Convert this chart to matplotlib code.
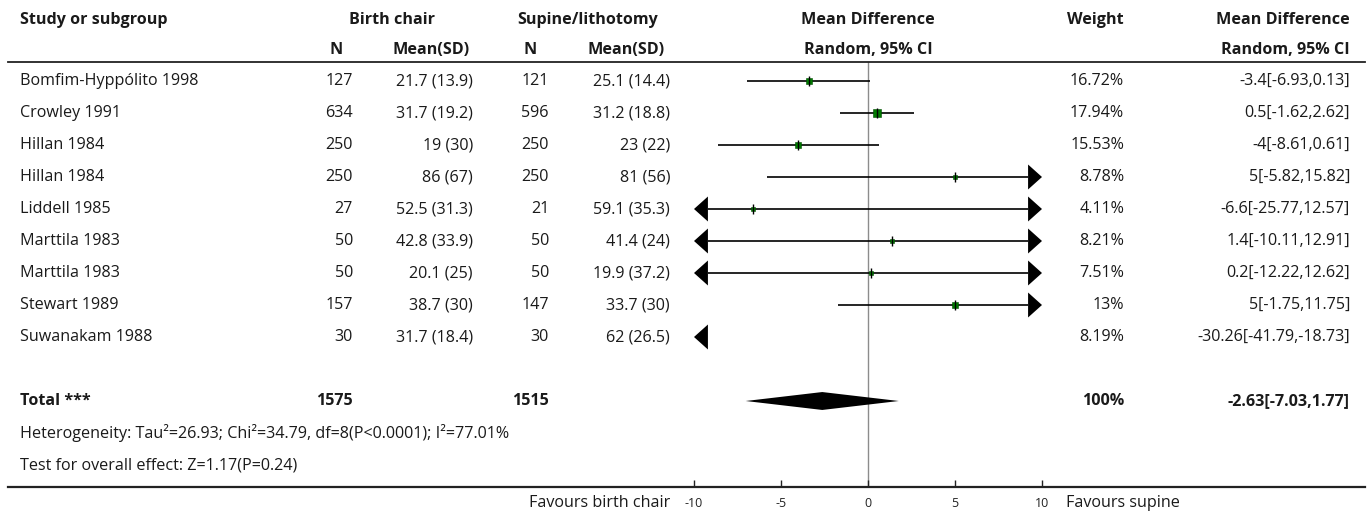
import matplotlib
matplotlib.use("Agg")
import matplotlib.pyplot as plt
from matplotlib.patches import Polygon
from matplotlib.lines import Line2D
from matplotlib.transforms import blended_transform_factory

plt.rcParams['font.family'] = ['Open Sans', 'DejaVu Sans']

# ---- data ----
studies = ["Bomfim-Hyppólito 1998", "Crowley 1991", "Hillan 1984", "Hillan 1984",
           "Liddell 1985", "Marttila 1983", "Marttila 1983", "Stewart 1989",
           "Suwanakam 1988"]
n_chair = [127, 634, 250, 250, 27, 50, 50, 157, 30]
msd_chair = ["21.7 (13.9)", "31.7 (19.2)", "19 (30)", "86 (67)", "52.5 (31.3)",
             "42.8 (33.9)", "20.1 (25)", "38.7 (30)", "31.7 (18.4)"]
n_sup = [121, 596, 250, 250, 21, 50, 50, 147, 30]
msd_sup = ["25.1 (14.4)", "31.2 (18.8)", "23 (22)", "81 (56)", "59.1 (35.3)",
           "41.4 (24)", "19.9 (37.2)", "33.7 (30)", "62 (26.5)"]
md = [-3.4, 0.5, -4, 5, -6.6, 1.4, 0.2, 5, -30.26]
lo = [-6.93, -1.62, -8.61, -5.82, -25.77, -10.11, -12.22, -1.75, -41.79]
hi = [0.13, 2.62, 0.61, 15.82, 12.57, 12.91, 12.62, 11.75, -18.73]
weight = [16.72, 17.94, 15.53, 8.78, 4.11, 8.21, 7.51, 13, 8.19]

total_n_chair, total_n_sup = 1575, 1515
total_md, total_lo, total_hi = -2.63, -7.03, 1.77
heterogeneity = "Heterogeneity: Tau²=26.93; Chi²=34.79, df=8(P<0.0001); I²=77.01%"
overall = "Test for overall effect: Z=1.17(P=0.24)"
xticks = [-10, -5, 0, 5, 10]

# ---- layout ----
W, H = 1370, 515
fig = plt.figure(figsize=(W / 100, H / 100), dpi=100)

def fx(px):
    return px / W

ax_left, ax_right = 694, 1042
ax_top, ax_bot = 62, 487
fax = fig.add_axes([fx(ax_left), 1 - ax_bot / H, fx(ax_right - ax_left), (ax_bot - ax_top) / H])
row0, step = 81, 32
fax.set_xlim(-10, 10)
fax.set_ylim((ax_bot - row0) / step, (ax_top - row0) / step)
for s in fax.spines.values():
    s.set_visible(False)
fax.set_yticks([])
fax.set_xticks(xticks)
fax.set_xticklabels([str(t) for t in xticks])
fax.tick_params(axis='x', direction='in', length=5, width=1, pad=7,
                labelsize=9, colors='#222222')
fax.patch.set_alpha(0)

tr = blended_transform_factory(fig.transFigure, fax.transData)
txt = '#1a1a1a'
fs = 11.6

def put(px, r, s, ha='left', bold=False, size=fs):
    fax.text(fx(px), r, s, transform=tr, ha=ha, va='center', fontsize=size,
             fontweight='bold' if bold else 'normal', color=txt, clip_on=False)

# header
h1, h2 = (20 - row0) / step, (50 - row0) / step
put(20, h1, "Study or subgroup", bold=True)
put(392, h1, "Birth chair", ha='center', bold=True)
put(588, h1, "Supine/lithotomy", ha='center', bold=True)
put(868, h1, "Mean Difference", ha='center', bold=True)
put(1124, h1, "Weight", ha='right', bold=True)
put(1350, h1, "Mean Difference", ha='right', bold=True)
put(336, h2, "N", ha='center', bold=True)
put(470, h2, "Mean(SD)", ha='right', bold=True)
put(530, h2, "N", ha='center', bold=True)
put(665, h2, "Mean(SD)", ha='right', bold=True)
put(868, h2, "Random, 95% CI", ha='center', bold=True)
put(1350, h2, "Random, 95% CI", ha='right', bold=True)

# rows
for i, name in enumerate(studies):
    put(20, i, name)
    put(353, i, str(n_chair[i]), ha='right')
    put(473, i, msd_chair[i], ha='right')
    put(549, i, str(n_sup[i]), ha='right')
    put(670, i, msd_sup[i], ha='right')
    put(1124, i, f"{weight[i]:g}%", ha='right')
    put(1350, i, f"{md[i]:g}[{lo[i]:g},{hi[i]:g}]", ha='right')

# forest marks
aw, ah = 0.8, 0.39

def arrow(side, r):
    tip = 10 * side
    fax.add_patch(Polygon([(tip, r), (tip - aw * side, r - ah), (tip - aw * side, r + ah)],
                          closed=True, color='black', lw=0, zorder=3))

for i in range(len(studies)):
    if hi[i] < -10:
        arrow(-1, i)
        continue
    if lo[i] > 10:
        arrow(1, i)
        continue
    left_out = lo[i] < -10
    right_out = hi[i] > 10
    x0 = -10 + aw if left_out else lo[i]
    x1 = 10 - aw if right_out else hi[i]
    fax.plot([x0, x1], [i, i], color='black', lw=1.2, solid_capstyle='butt')
    if left_out:
        arrow(-1, i)
    if right_out:
        arrow(1, i)
    fax.plot(md[i], i, marker='s', color='#007a00', markersize=1.2 * weight[i] ** 0.5,
             markeredgewidth=0.4, markeredgecolor='#004d00', zorder=3)
    fax.plot(md[i], i, marker='|', color='black', markersize=7.5, markeredgewidth=1, zorder=4)

fax.axvline(0, color='#8c8c8c', lw=1, zorder=1)

# total
rt = len(studies) + 1
put(20, rt, "Total ***", bold=True)
put(353, rt, str(total_n_chair), ha='right', bold=True)
put(549, rt, str(total_n_sup), ha='right', bold=True)
put(1124, rt, "100%", ha='right', bold=True)
put(1350, rt, f"{total_md:g}[{total_lo:g},{total_hi:g}]", ha='right', bold=True)
dh = 0.28
fax.add_patch(Polygon([(total_lo, rt), (total_md, rt - dh), (total_hi, rt), (total_md, rt + dh)],
                      closed=True, color='black', lw=0, zorder=3))

put(20, rt + 1, heterogeneity)
put(20, rt + 2, overall)

# separators
ylim = fax.get_ylim()
for y in (ylim[1], ylim[0]):
    fig.add_artist(Line2D([fx(8), fx(1365)], [y, y], transform=tr, color='#222222',
                          lw=1.6 if y == ylim[0] else 1.3))

rf = (503 - row0) / step
put(670, rf, "Favours birth chair", ha='right')
put(1066, rf, "Favours supine", ha='left')

fig.savefig("out.png", dpi=100)
